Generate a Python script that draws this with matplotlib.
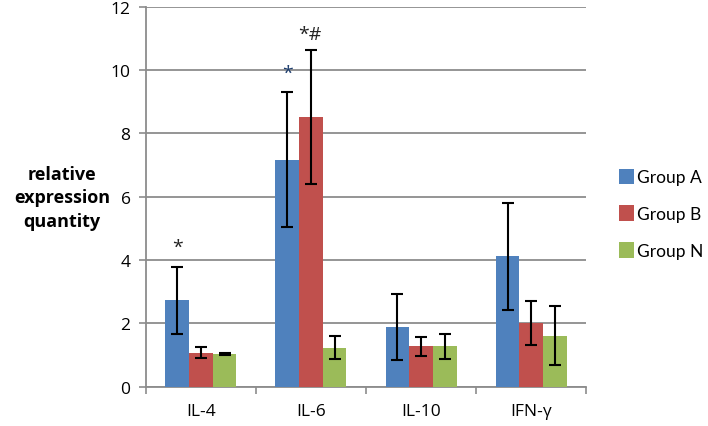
import matplotlib
matplotlib.use("Agg")
import matplotlib.pyplot as plt
import numpy as np

plt.rcParams['font.family'] = ['Open Sans', 'DejaVu Sans']

categories = ["IL-4", "IL-6", "IL-10", "IFN-γ"]
groups = ["Group A", "Group B", "Group N"]
group_a = [2.72, 7.17, 1.88, 4.11]
group_b = [1.07, 8.52, 1.27, 2.00]
group_n = [1.03, 1.23, 1.27, 1.60]
err_a = [1.05, 2.12, 1.05, 1.70]
err_b = [0.18, 2.12, 0.30, 0.70]
err_n = [0.04, 0.35, 0.40, 0.93]
colors = ["#4F81BD", "#C0504D", "#9BBB59"]
y_ticks = [0, 2, 4, 6, 8, 10, 12]

fig = plt.figure(figsize=(7.08, 4.27), dpi=100)
ax = fig.add_axes([0.206, 0.0925, 0.622, 0.8895])

x = np.arange(len(categories))
w = 0.215
series = [group_a, group_b, group_n]
errs = [err_a, err_b, err_n]
for i, (vals, e, c, lab) in enumerate(zip(series, errs, colors, groups)):
    ax.bar(x + (i - 1) * w, vals, width=w, color=c, label=lab, zorder=3)
    ax.errorbar(x + (i - 1) * w, vals, yerr=e, fmt='none', ecolor='black',
                elinewidth=1.5, capsize=4, capthick=1.5, zorder=4)

# significance marks
ax.text(x[0] - w, 4.4, "*", ha='center', va='center', fontsize=14, color='#222222', zorder=5)
ax.text(x[1] - w, 9.9, "*", ha='center', va='center', fontsize=14, color='#1f3f6f', zorder=5)
ax.text(x[1] - 0.01, 11.15, "*#", ha='center', va='center', fontsize=14, color='#222222', zorder=5)

ax.set_xlim(-0.5, len(categories) - 0.5)
ax.set_ylim(0, 12)
ax.set_yticks(y_ticks)
ax.set_yticklabels([str(t) for t in y_ticks], fontsize=12.5)
ax.yaxis.grid(True, color='#8c8c8c', linewidth=1.3, zorder=0)
ax.set_axisbelow(True)

ax.set_xticks(x)
ax.set_xticklabels(categories, fontsize=12.5)
ax.tick_params(axis='x', length=0, pad=12)
ax.set_xticks(np.arange(-0.5, len(categories)), minor=True)
ax.tick_params(axis='x', which='minor', length=5, color='#8c8c8c', width=1.2)
ax.tick_params(axis='y', length=5, color='#8c8c8c', width=1.2, pad=6)

for s in ['top', 'right']:
    ax.spines[s].set_visible(False)
for s in ['left', 'bottom']:
    ax.spines[s].set_color('#8c8c8c')
    ax.spines[s].set_linewidth(1.3)

fig.text(0.088, 0.536, "relative\nexpression\nquantity", ha='center', va='center',
         fontsize=13, fontweight='bold', linespacing=1.4)

ax.legend(loc='center left', bbox_to_anchor=(1.04, 0.455), frameon=False,
          prop={'family': ['Lato', 'DejaVu Sans'], 'size': 12.5},
          handlelength=0.85, handleheight=1.0, handletextpad=0.15,
          labelspacing=1.15)

fig.savefig("out.png", dpi=100)
